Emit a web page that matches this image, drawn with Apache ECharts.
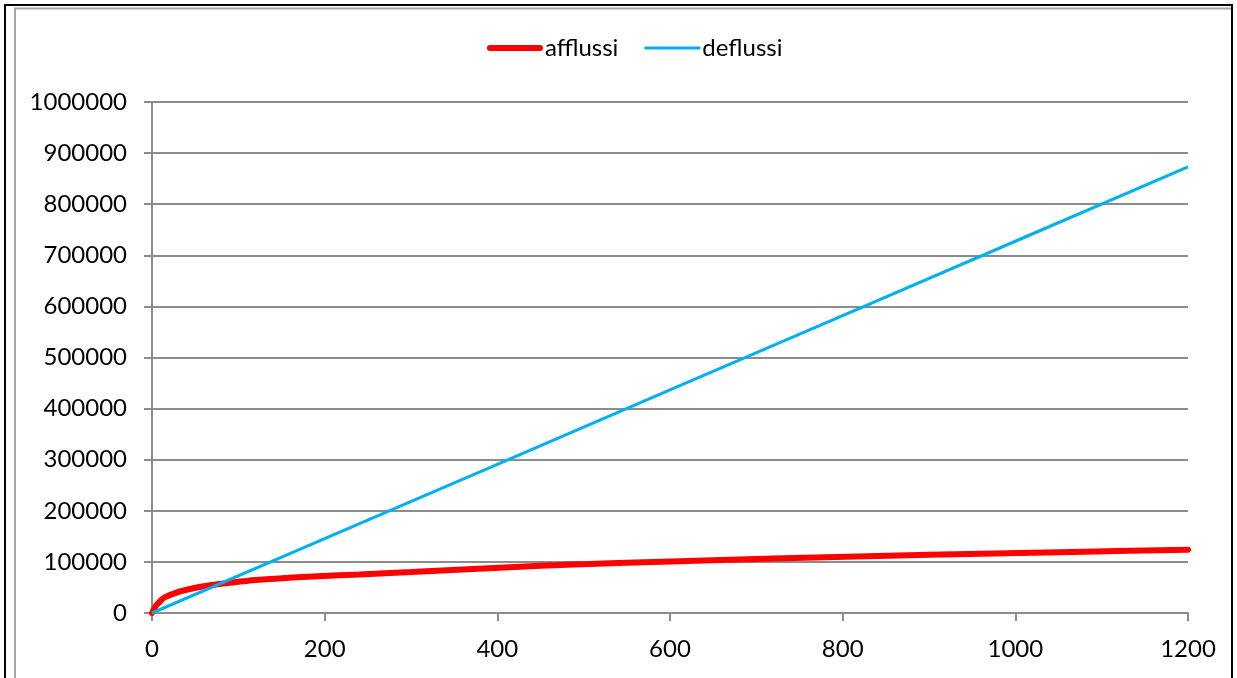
<!DOCTYPE html>
<html>
<head>
<meta charset="utf-8">
<script src="https://cdn.jsdelivr.net/npm/echarts@6/dist/echarts.min.js"></script>
<style>
  html, body { margin: 0; padding: 0; background: #ffffff; }
  #chart { width: 1237px; height: 678px; }
</style>
</head>
<body>
<div id="chart"></div>
<script>
// Cumulative inflow volume (afflussi) over time
const afflussiTime = [0, 5, 10, 15, 30, 45, 60, 90, 120, 180, 240, 300, 360, 420, 480, 600, 720, 840, 960, 1080, 1200];
const afflussiValues = [0, 15000, 24000, 31000, 41000, 47500, 52500, 59000, 64500, 71000, 75500, 80000, 85000, 90000, 94500, 101000, 106500, 111500, 116000, 120000, 124000];

// Cumulative outflow volume (deflussi) over time
const deflussiTime = [0, 200, 400, 600, 800, 1000, 1200];
const deflussiValues = [0, 145500, 291000, 436500, 582000, 727500, 873000];

// Axis tick values
const xTicks = [0, 200, 400, 600, 800, 1000, 1200];
const yTicks = [0, 100000, 200000, 300000, 400000, 500000, 600000, 700000, 800000, 900000, 1000000];

const pairs = (xs, ys) => xs.map((x, i) => [x, ys[i]]);

const FONT = 'Lato, "Open Sans", sans-serif';
const FONT_SIZE = 24;
const GRID_COLOR = '#8c8c8c';

const chart = echarts.init(document.getElementById('chart'), null, { renderer: 'canvas' });

chart.setOption({
  backgroundColor: '#ffffff',
  animation: false,
  textStyle: { fontFamily: FONT, color: '#000' },
  legend: {
    top: 31,
    left: 482,
    itemWidth: 56,
    itemHeight: 14,
    itemGap: 26,
    textStyle: { fontFamily: FONT, fontSize: FONT_SIZE, color: '#000', padding: [0, 0, 0, -3] },
    data: [
      { name: 'afflussi', icon: 'path://M3,0 L53,0 A3,3 0 0 1 53,6 L3,6 A3,3 0 0 1 3,0 Z' },
      { name: 'deflussi', icon: 'path://M0,0 L53,0 L53,3 L0,3 Z' }
    ]
  },
  grid: { left: 152, right: 49, top: 102, bottom: 65, containLabel: false },
  xAxis: {
    type: 'value',
    min: xTicks[0],
    max: xTicks[xTicks.length - 1],
    interval: xTicks[1] - xTicks[0],
    axisLine: { show: true, lineStyle: { color: GRID_COLOR, width: 2 } },
    axisTick: { show: true, length: 8, inside: false, lineStyle: { color: GRID_COLOR, width: 2 } },
    axisLabel: { margin: 24, fontFamily: FONT, fontSize: FONT_SIZE, color: '#000', formatter: v => String(v) },
    splitLine: { show: false }
  },
  yAxis: {
    type: 'value',
    min: yTicks[0],
    max: yTicks[yTicks.length - 1],
    interval: yTicks[1] - yTicks[0],
    axisLine: { show: true, lineStyle: { color: GRID_COLOR, width: 2 } },
    axisTick: { show: true, length: 8, inside: false, lineStyle: { color: GRID_COLOR, width: 2 } },
    axisLabel: { margin: 25, fontFamily: FONT, fontSize: FONT_SIZE, color: '#000', formatter: v => String(v) },
    splitLine: { show: true, lineStyle: { color: GRID_COLOR, width: 2 } }
  },
  series: [
    {
      name: 'afflussi',
      type: 'line',
      data: pairs(afflussiTime, afflussiValues),
      showSymbol: false,
      smooth: 0.3,
      color: '#ff0000',
      lineStyle: { color: '#ff0000', width: 6, cap: 'round' },
      z: 3
    },
    {
      name: 'deflussi',
      type: 'line',
      data: pairs(deflussiTime, deflussiValues),
      showSymbol: false,
      color: '#00b0f0',
      lineStyle: { color: '#00b0f0', width: 3 },
      z: 4
    }
  ],
  graphic: [
    {
      type: 'polyline',
      silent: true,
      shape: { points: [[15, 680], [15, 8.5], [1233, 8.5]] },
      style: { stroke: '#a6a6a6', lineWidth: 2, fill: null }
    },
    {
      type: 'polyline',
      silent: true,
      shape: { points: [[5, 680], [5, 5], [1232, 5], [1232, 680]] },
      style: { stroke: '#000000', lineWidth: 2, fill: null }
    }
  ]
});
</script>
</body>
</html>
